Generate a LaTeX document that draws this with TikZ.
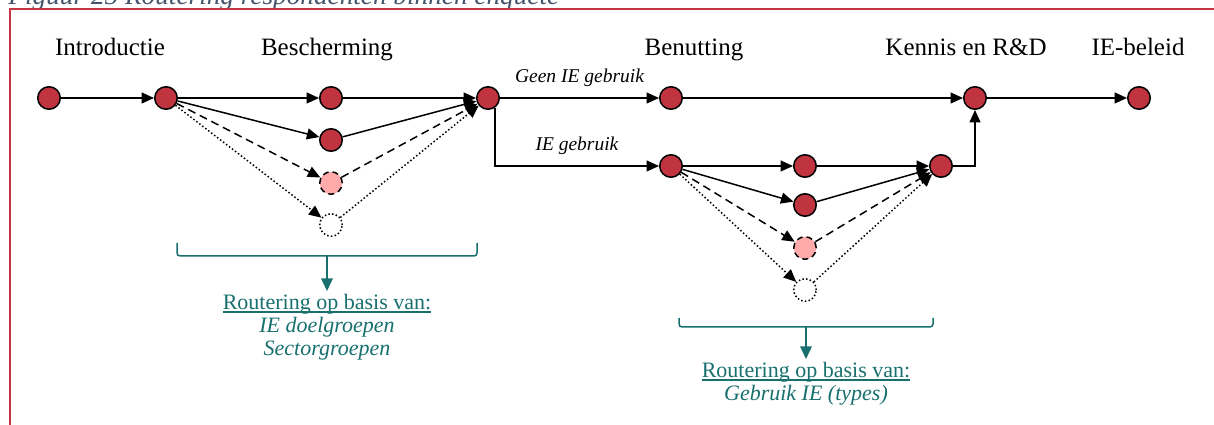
\documentclass[tikz,border=0pt]{standalone}
\usepackage{fontspec}
\setmainfont{Liberation Serif}
\usetikzlibrary{arrows.meta}

\definecolor{knoopRood}{HTML}{C0343F}
\definecolor{knoopRoze}{HTML}{FFAAAA}
\definecolor{routeTeal}{HTML}{17706E}
\definecolor{kaderRood}{HTML}{C23743}
\definecolor{titelGrijs}{HTML}{44546A}

% underline close to the baseline
\newcommand\onderstreept[1]{\setbox0\hbox{#1}\rlap{\rule[-1.3pt]{\wd0}{0.45pt}}\box0}

\tikzset{
    knoop/.style={circle, draw=black, fill=knoopRood, line width=0.6pt, minimum size=9pt, inner sep=0pt},
    rozeknoop/.style={knoop, fill=knoopRoze, dash pattern=on 2.4pt off 1.6pt},
    leegknoop/.style={knoop, fill=white, dash pattern=on 0.6pt off 0.9pt},
    pijl/.style={-{Triangle[length=5pt,width=4.4pt]}, line width=0.6pt},
    streep/.style={pijl, dash pattern=on 3.2pt off 2pt},
    stip/.style={pijl, dash pattern=on 0.6pt off 0.9pt},
    kop/.style={anchor=base, font=\fontsize{10}{12}\selectfont},
    pijllabel/.style={anchor=base, font=\fontsize{7.8}{9}\selectfont\itshape},
    route/.style={anchor=north, align=center, inner sep=1pt, text=routeTeal, font=\fontsize{8.8}{9.2}\selectfont},
    haak/.style={draw=routeTeal, line width=0.6pt, rounded corners=1.2pt},
    haakpijl/.style={draw=routeTeal, line width=0.6pt, -{Triangle[length=5pt,width=4.6pt]}}
}

\begin{document}
\begin{tikzpicture}[x=0.4pt, y=-0.4pt]
    \useasboundingbox (0,0) rectangle (1214,425);
    % Caption and frame
    \node [anchor=base west, inner sep=0pt, text=titelGrijs, font=\fontsize{10.9}{12}\selectfont\itshape] (titel) at (8,5) {Figuur 25 Routering respondenten binnen enquête};
    \draw [kaderRood, line width=0.8pt] (10,440) -- (10,9) -- (1230,9);
    % Phase headings
    \foreach \kx/\kn/\kt in {110/intro/Introductie, 327/besch/Bescherming, 694/benut/Benutting, 966/kennis/Kennis en R\&D, 1138/beleid/IE-beleid}
        \node [kop] (kop-\kn) at (\kx,56) {\kt};
    % Main row
    \node [knoop] (start) at (49,98) {};
    \node [knoop] (intro) at (166,98) {};
    \node [knoop] (besch) at (488,98) {};
    \node [knoop] (geen) at (671,98) {};
    \node [knoop] (kennis) at (975,98) {};
    \node [knoop] (beleid) at (1139,98) {};
    % Bescherming options
    \node [knoop] (b1) at (331,98) {};
    \node [knoop] (b2) at (331,140) {};
    \node [rozeknoop] (b3) at (331,183) {};
    \node [leegknoop] (b4) at (331,225) {};
    % Benutting options
    \node [knoop] (gebruik) at (671,166) {};
    \node [knoop] (u1) at (805,166) {};
    \node [knoop] (u2) at (805,205) {};
    \node [rozeknoop] (u3) at (805,248) {};
    \node [leegknoop] (u4) at (805,290) {};
    \node [knoop] (uit) at (941,166) {};
    % Connectors
    \draw [pijl] (start) -- (intro);
    \foreach \bk/\st in {b1/pijl, b2/pijl, b3/streep, b4/stip} {
        \draw [\st] (intro) -- (\bk);
        \draw [\st] (\bk) -- (besch);
    }
    \draw [pijl] (besch) -- node [pijllabel, above=1pt] {Geen IE gebruik} (geen);
    \draw [pijl] (besch.-55) |- node [pijllabel, pos=0.75, above=1pt] {IE gebruik} (gebruik);
    \draw [pijl] (geen) -- (kennis);
    \foreach \uk/\st in {u1/pijl, u2/pijl, u3/streep, u4/stip} {
        \draw [\st] (gebruik) -- (\uk);
        \draw [\st] (\uk) -- (uit);
    }
    \draw [pijl] (uit) -| (kennis);
    \draw [pijl] (kennis) -- (beleid);
    % Routing brackets
    \draw [haak] (177,243) -- (177,256) -- (477,256) -- (477,243);
    \coordinate (haak1) at (327,256);
    \node [route] (route1) at (327,291) {\onderstreept{Routering op basis van:}\\\itshape IE doelgroepen\\\itshape Sectorgroepen};
    \draw [haakpijl] (haak1) -- (route1.north);
    \draw [haak] (679,318) -- (679,327) -- (933,327) -- (933,318);
    \coordinate (haak2) at (806,327);
    \node [route] (route2) at (806,359) {\onderstreept{Routering op basis van:}\\\itshape Gebruik IE (types)};
    \draw [haakpijl] (haak2) -- (route2.north);
\end{tikzpicture}
\end{document}
